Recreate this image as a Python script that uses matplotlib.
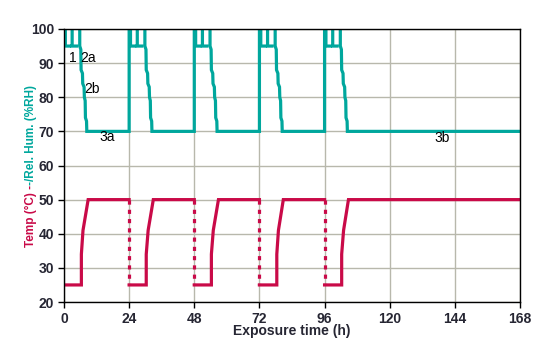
import numpy as np
import matplotlib
matplotlib.use('Agg')
import matplotlib.pyplot as plt

nan = np.nan

# ---------------- data ----------------
# relative humidity (%RH), gaps where the curve sits on the 100 line
rh_t = [0, 0.5, 0.5, 2.0, nan, 3.0, 3.0, 4.6, nan,
        5.8, 5.8, 6.2, 6.3, 6.8, 6.9, 7.4, 7.5, 7.8, 7.9, 8.3, 8.4, 24,
        24, 24.5, 24.5, 26.0, nan, 27.0, 27.0, 28.6, nan,
        29.8, 29.8, 30.2, 30.3, 30.8, 30.9, 31.4, 31.5, 31.8, 31.9, 32.3, 32.4, 48,
        48, 48.5, 48.5, 50.0, nan, 51.0, 51.0, 52.6, nan,
        53.8, 53.8, 54.2, 54.3, 54.8, 54.9, 55.4, 55.5, 55.8, 55.9, 56.3, 56.4, 72,
        72, 72.5, 72.5, 74.0, nan, 75.0, 75.0, 76.6, nan,
        77.8, 77.8, 78.2, 78.3, 78.8, 78.9, 79.4, 79.5, 79.8, 79.9, 80.3, 80.4, 96,
        96, 96.5, 96.5, 98.0, nan, 99.0, 99.0, 100.6, nan,
        101.8, 101.8, 102.2, 102.3, 102.8, 102.9, 103.4, 103.5, 103.8, 103.9, 104.3, 104.4, 168]
rh_v = [100, 100, 95, 95, nan, 100, 95, 95, nan,
        100, 95, 94, 88, 87, 84, 83, 80, 79, 74, 73, 70, 70,
        100, 100, 95, 95, nan, 100, 95, 95, nan,
        100, 95, 94, 88, 87, 84, 83, 80, 79, 74, 73, 70, 70,
        100, 100, 95, 95, nan, 100, 95, 95, nan,
        100, 95, 94, 88, 87, 84, 83, 80, 79, 74, 73, 70, 70,
        100, 100, 95, 95, nan, 100, 95, 95, nan,
        100, 95, 94, 88, 87, 84, 83, 80, 79, 74, 73, 70, 70,
        100, 100, 95, 95, nan, 100, 95, 95, nan,
        100, 95, 94, 88, 87, 84, 83, 80, 79, 74, 73, 70, 70]

# temperature (degC)
temp_t = [0, 6.4, 6.4, 7.0, 8.9, 24, nan,
          24, 30.3, 30.3, 31.0, 32.9, 48, nan,
          48, 54.3, 54.3, 55.0, 56.9, 72, nan,
          72, 78.4, 78.4, 79.0, 80.8, 96, nan,
          96, 102.3, 102.3, 103.0, 104.8, 168]
temp_v = [25, 25, 34, 41, 50, 50, nan,
          25, 25, 34, 41, 50, 50, nan,
          25, 25, 34, 41, 50, 50, nan,
          25, 25, 34, 41, 50, 50, nan,
          25, 25, 34, 41, 50, 50]

# temperature resets (dotted drops 50 -> 25)
reset_t = [24, 48, 72, 96]
reset_hi = 50
reset_lo = 25

# phase labels
lab_txt = ['1', '2a', '2b', '3a', '3b']
lab_x = [3.3, 8.8, 10.3, 15.8, 139.2]
lab_y = [91.5, 91.5, 82.4, 68.3, 68.0]

xticks = [0, 24, 48, 72, 96, 120, 144, 168]
yticks = [20, 30, 40, 50, 60, 70, 80, 90, 100]

teal = '#00A79D'
red = '#C90A48'
grid_c = '#B8B8AC'
txt_c = '#262633'

plt.rcParams['font.family'] = ['Liberation Sans', 'DejaVu Sans']

fig = plt.figure(figsize=(5.49, 3.54), dpi=100)
ax = fig.add_axes([64/549, 1-302/354, 456/549, 273/354])

ax.plot(rh_t, rh_v, color=teal, lw=2.3, solid_joinstyle='miter', zorder=3)
ax.plot(temp_t, temp_v, color=red, lw=2.3, solid_joinstyle='miter', zorder=3)
for t in reset_t:
    ax.plot([t, t], [reset_hi, reset_lo], color=red, lw=2.3,
            dashes=[1.3, 1.6], zorder=3)

for s, x, y in zip(lab_txt, lab_x, lab_y):
    ax.text(x, y, s, fontsize=10, color='black', ha='center', va='center', zorder=4)

ax.set_xlim(0, 168)
ax.set_ylim(20, 100)
ax.set_xticks(xticks)
ax.set_yticks(yticks)
ax.grid(True, color=grid_c, lw=1.0)
ax.set_axisbelow(True)
for sp in ax.spines.values():
    sp.set_color('black')
    sp.set_linewidth(1.0)
    sp.set_zorder(5)
ax.tick_params(direction='out', length=4, width=1, colors='black',
               labelsize=10, labelcolor=txt_c, pad=3)
for lb in ax.get_xticklabels() + ax.get_yticklabels():
    lb.set_fontweight('bold')

ax.set_xlabel('Exposure time (h)', fontsize=10, fontweight='bold',
              color=txt_c, labelpad=-1)

# two-colour y label
ax.text(-0.073, 0.43, 'Temp (°C) -', transform=ax.transAxes, rotation=90,
        ha='center', va='top', fontsize=8.5, fontweight='bold', color=red)
ax.text(-0.073, 0.43, '-/Rel. Hum. (%RH)', transform=ax.transAxes, rotation=90,
        ha='center', va='bottom', fontsize=8.5, fontweight='bold', color=teal)

plt.savefig('out.png', dpi=100)
